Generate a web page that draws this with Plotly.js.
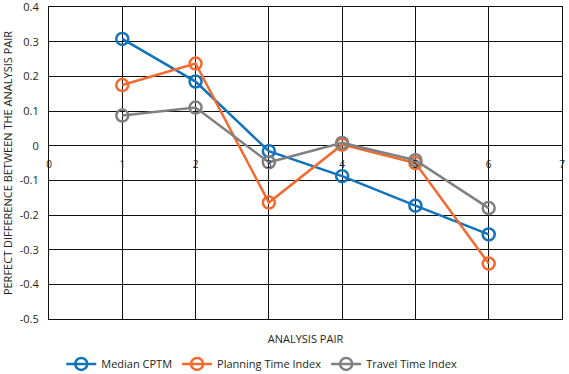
<!DOCTYPE html>
<html><head><meta charset="utf-8">
<script src="https://cdn.plot.ly/plotly-3.0.1.min.js"></script>
<style>body{margin:0;padding:0;background:#fff}#chart{width:569px;height:374px}</style>
</head><body><div id="chart"></div>
<script>
const pairs = [1, 2, 3, 4, 5, 6];
const medianCPTM = [0.308, 0.185, -0.016, -0.088, -0.173, -0.256];
const planningTimeIndex = [0.175, 0.237, -0.164, 0.003, -0.050, -0.340];
const travelTimeIndex = [0.087, 0.110, -0.048, 0.008, -0.042, -0.180];
const xTicks = [0, 1, 2, 3, 4, 5, 6, 7];
const yTicks = [0.4, 0.3, 0.2, 0.1, 0, -0.1, -0.2, -0.3, -0.4, -0.5];

const fam = 'Open Sans, Liberation Sans, sans-serif';
const txt = '#231f20';
function tr(name, y, color) {
  return {x: pairs, y: y, name: name, type: 'scatter', mode: 'lines+markers',
    line: {color: color, width: 2.5},
    marker: {symbol: 'circle-open', size: 12, color: color, line: {width: 2.5, color: color}}};
}
const data = [
  tr('Median CPTM', medianCPTM, '#1273bb'),
  tr('Planning Time Index', planningTimeIndex, '#f26a2e'),
  tr('Travel Time Index', travelTimeIndex, '#808080')
];
const layout = {
  width: 569, height: 374,
  margin: {l: 49, r: 7, t: 7, b: 55},
  paper_bgcolor: '#fff', plot_bgcolor: '#fff',
  font: {family: fam, size: 10, color: txt},
  showlegend: true,
  legend: {orientation: 'h', xref: 'container', yref: 'container', x: 0.46, xanchor: 'center',
    y: 0.027, yanchor: 'middle',
    font: {family: fam, size: 11, color: txt}, itemwidth: 30, tracegroupgap: 0},
  xaxis: {range: [0, 7], tickvals: xTicks, showticklabels: false, showgrid: true, automargin: false,
    gridcolor: '#111', gridwidth: 1, zeroline: false, showline: true, linecolor: '#111', linewidth: 1,
    mirror: true, ticks: '',
    title: {text: 'ANALYSIS PAIR', font: {family: fam, size: 11, color: txt}, standoff: 16}},
  xaxis2: {range: [0, 7], tickvals: xTicks, overlaying: 'x', anchor: 'free', position: 0.52, automargin: false,
    showgrid: false, zeroline: false, showline: false, ticks: '',
    tickfont: {family: fam, size: 10, color: txt}},
  yaxis: {range: [-0.5, 0.4001], tickvals: yTicks, ticktext: yTicks.map(v => v === 0 ? '0' : v.toFixed(1)),
    showgrid: true, gridcolor: '#111', gridwidth: 1, zeroline: false, showline: true, linecolor: '#111',
    linewidth: 1, mirror: true, ticks: '', ticklabelstandoff: 7, automargin: false, ticklabeloverflow: 'allow',
    tickfont: {family: fam, size: 11, color: txt},
    title: {text: 'PERFECT DIFFERENCE BETWEEN THE ANALYSIS PAIR', font: {family: fam, size: 11, color: txt}, standoff: 7}}
};
data.push({x: [0, 7], y: [null, null], xaxis: 'x2', yaxis: 'y', showlegend: false, hoverinfo: 'skip', mode: 'lines'});
Plotly.newPlot('chart', data, layout, {displayModeBar: false});
</script></body></html>
